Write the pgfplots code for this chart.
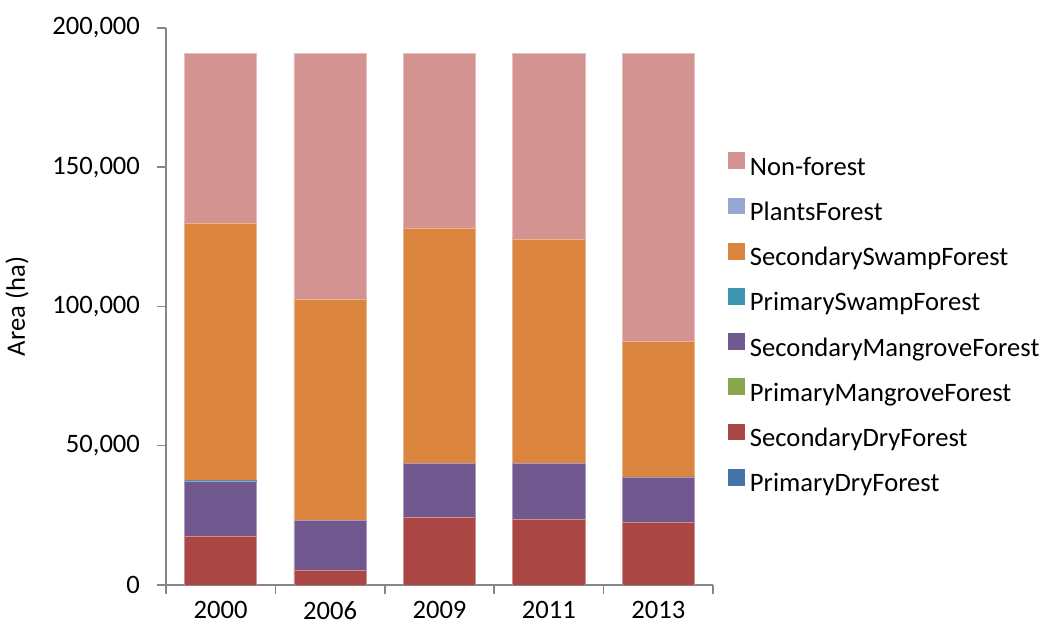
\documentclass[border=0pt]{standalone}
\usepackage{pgfplots}
\pgfplotsset{compat=1.18}
\usepackage{fontspec}
\setmainfont{Carlito}
\definecolor{cNon}{HTML}{D39391}
\definecolor{cPlants}{HTML}{95A9D0}
\definecolor{cSecSwamp}{HTML}{DB843D}
\definecolor{cPriSwamp}{HTML}{3D96AE}
\definecolor{cSecMang}{HTML}{71588F}
\definecolor{cPriMang}{HTML}{89A54E}
\definecolor{cSecDry}{HTML}{AA4643}
\definecolor{cPriDry}{HTML}{4572A7}
\definecolor{axgray}{HTML}{868686}
\begin{document}
\begin{tikzpicture}[x=1pt,y=1pt]
\path[use as bounding box] (-83,-22.5) rectangle (437,292.5);
\begin{axis}[
  at={(0,0)}, anchor=south west,
  scale only axis, width=273.5pt, height=278.5pt,
  font=\fontsize{13.3}{15}\selectfont,
  xmin=-0.5, xmax=4.5, ymin=0, ymax=200000,
  ybar stacked, bar width=0.66,
  axis lines*=left,
  axis line style={axgray, line width=0.75pt},
  tick align=outside,
  major tick length=4.5pt, minor tick length=4.5pt,
  xtick={0,1,2,3,4},
  xticklabels={2000,2006,2009,2011,2013},
  minor xtick={-0.5,0.5,1.5,2.5,3.5,4.5},
  xtick style={draw=none},
  minor x tick style={axgray, line width=0.75pt, draw=axgray},
  ytick={0,50000,100000,150000,200000},
  ytick style={axgray, line width=0.75pt},
  scaled y ticks=false,
  yticklabel style={/pgf/number format/fixed, /pgf/number format/1000 sep={,}, /pgf/number format/assume math mode=true, xshift=-5pt},
  xticklabel style={/pgf/number format/assume math mode=true, yshift=0pt},
  ylabel={Area (ha)},
  ylabel shift={5pt},
  reverse legend,
  legend cell align=left,
  legend image code/.code={\fill[#1,draw=none] (0pt,-0.2pt) rectangle (8.5pt,8.2pt);},
  legend style={at={(1.0274,0.4677)}, anchor=west, draw=none, fill=none,
    inner sep=0pt, outer sep=0pt,
    nodes={inner sep=0pt, text height=9pt, text depth=2.5pt},
    row sep=8.65pt, column sep=2.5pt,
    font=\fontsize{13.3}{15}\selectfont},
]
\addplot[fill=cPriDry, draw=none] coordinates {(0,0) (1,0) (2,0) (3,0) (4,0)};
\addlegendentry{PrimaryDryForest}
\addplot[fill=cSecDry, draw=cSecDry!60!white, line width=0.4pt] coordinates {(0,17600) (1,5400) (2,24300) (3,23600) (4,22500)};
\addlegendentry{SecondaryDryForest}
\addplot[fill=cPriMang, draw=none] coordinates {(0,0) (1,0) (2,0) (3,0) (4,0)};
\addlegendentry{PrimaryMangroveForest}
\addplot[fill=cSecMang, draw=cSecMang!60!white, line width=0.4pt] coordinates {(0,19500) (1,17700) (2,19400) (3,20100) (4,16300)};
\addlegendentry{SecondaryMangroveForest}
\addplot[fill=cPriSwamp, draw=none] coordinates {(0,500) (1,0) (2,0) (3,0) (4,0)};
\addlegendentry{PrimarySwampForest}
\addplot[fill=cSecSwamp, draw=cSecSwamp!60!white, line width=0.4pt] coordinates {(0,92200) (1,79300) (2,84200) (3,80500) (4,48500)};
\addlegendentry{SecondarySwampForest}
\addplot[fill=cPlants, draw=none] coordinates {(0,0) (1,0) (2,0) (3,0) (4,0)};
\addlegendentry{PlantsForest}
\addplot[fill=cNon, draw=cNon!60!white, line width=0.4pt] coordinates {(0,61200) (1,88600) (2,63100) (3,66800) (4,103700)};
\addlegendentry{Non-forest}
\end{axis}
\end{tikzpicture}
\end{document}
